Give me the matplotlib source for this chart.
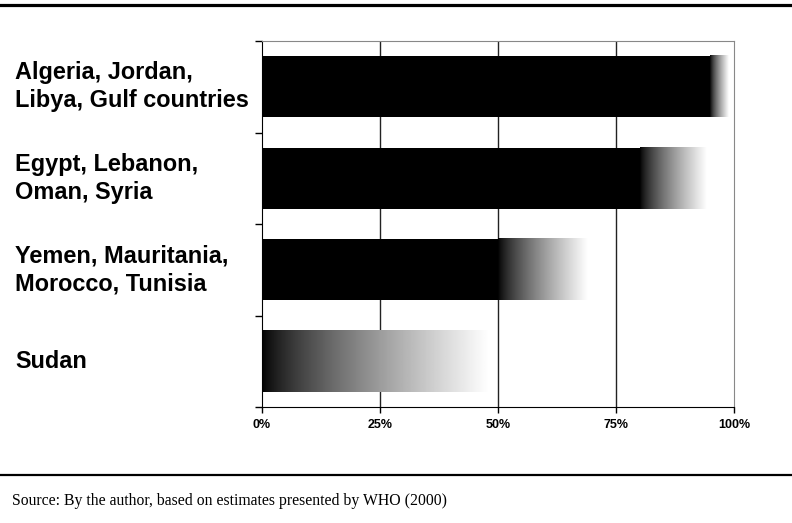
import numpy as np
import matplotlib.pyplot as plt
import matplotlib.transforms as mtrans
from matplotlib.lines import Line2D

# regions (top to bottom) and estimated coverage range in %
regions = ['Algeria, Jordan,\nLibya, Gulf countries',
           'Egypt, Lebanon,\nOman, Syria',
           'Yemen, Mauritania,\nMorocco, Tunisia',
           'Sudan']
low = [95, 80, 50, 0]
high = [99, 94, 69, 48]
ticks = [0, 25, 50, 75, 100]
tick_labels = ['0%', '25%', '50%', '75%', '100%']


def main():
    fig = plt.figure(figsize=(7.92, 5.23), dpi=100)
    ax = fig.add_axes([262/792, 1-407/523, (734-262)/792, (407-41)/523])

    bar_h = 0.67
    # black -> white fade, slightly lightened in the middle
    grad = (np.linspace(0, 1, 256) ** 0.75).reshape(1, -1)
    for i, (lo, hi) in enumerate(zip(low, high)):
        if lo > 0:
            ax.barh(i, lo, height=bar_h, color='black', zorder=3)
        ax.imshow(grad, cmap='gray', vmin=0, vmax=1, aspect='auto',
                  interpolation='bilinear',
                  extent=[lo, hi, i + bar_h/2, i - bar_h/2], zorder=3)

    ax.set_xlim(0, 100)
    ax.set_ylim(3.5, -0.5)

    for x in [25, 50, 75]:
        ax.axvline(x, color='#222222', lw=1.0, zorder=1)

    ax.set_xticks(ticks)
    ax.set_xticklabels(tick_labels, fontsize=9, fontweight='bold',
                       family='Liberation Sans')
    ax.tick_params(axis='x', direction='out', length=4, width=1, pad=5)
    ax.set_yticks([-0.5, 0.5, 1.5, 2.5, 3.5])
    ax.set_yticklabels([])
    ax.tick_params(axis='y', direction='out', length=5, width=1)

    ax.spines['left'].set_color('black')
    ax.spines['bottom'].set_color('black')
    ax.spines['top'].set_color('#888888')
    ax.spines['right'].set_color('#888888')

    tr = mtrans.blended_transform_factory(fig.transFigure, ax.transData)
    for i, name in enumerate(regions):
        fig.text(15/792, i, name, transform=tr, ha='left', va='center',
                 fontsize=16.9, fontweight='bold', family='Liberation Sans',
                 linespacing=1.3)

    # frame lines of the figure box
    fig.add_artist(Line2D([0, 1], [1-5/523, 1-5/523], color='black', lw=2.3,
                          transform=fig.transFigure))
    fig.add_artist(Line2D([0, 1], [1-475/523, 1-475/523], color='black', lw=1.6,
                          transform=fig.transFigure))
    fig.text(12/792, 1-501/523, 'Source: By the author, based on estimates presented by WHO (2000)',
             ha='left', va='center', fontsize=11.3, family='Liberation Serif')

    fig.savefig('out.png', dpi=100)


if __name__ == '__main__':
    main()
